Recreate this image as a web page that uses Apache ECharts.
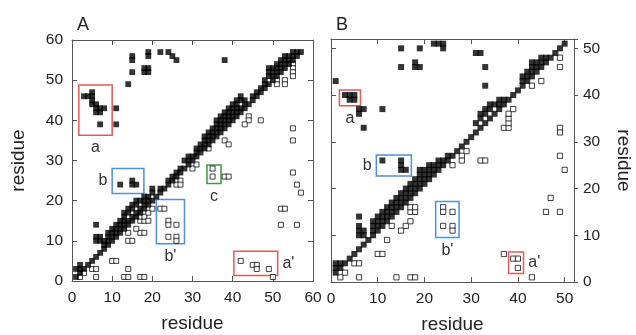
<!DOCTYPE html>
<html>
<head>
<meta charset="utf-8">
<script src="https://cdn.jsdelivr.net/npm/echarts@6/dist/echarts.min.js"></script>
<style>
  html, body { margin: 0; padding: 0; background: #fff; }
  #chart { width: 636px; height: 335px; }
</style>
</head>
<body>
<div id="chart"></div>
<script>
// panel A: contacts [residue i, residue j]
var aFilled = [
  [1,1],[2,2],[3,3],[4,4],[5,5],[6,6],[7,7],[8,8],[9,9],[10,10],
  [11,11],[12,12],[13,13],[14,14],[15,15],[16,16],[17,17],[18,18],[19,19],[20,20],
  [21,21],[22,22],[23,23],[24,24],[25,25],[26,26],[27,27],[28,28],[29,29],[30,30],
  [31,31],[32,32],[33,33],[34,34],[35,35],[36,36],[37,37],[38,38],[39,39],[40,40],
  [41,41],[42,42],[43,43],[44,44],[45,45],[46,46],[47,47],[48,48],[49,49],[50,50],
  [51,51],[52,52],[53,53],[54,54],[55,55],[56,56],[57,57],
  [1,3],[2,3],[2,4],
  [6,10],[7,10],[6,11],[7,11],[6,14],
  [8,9],[9,10],[10,11],[11,12],[12,13],[13,14],[14,15],[15,16],[16,17],[17,18],
  [18,19],[19,20],
  [8,10],[9,11],[9,12],[10,12],[10,13],[11,13],[11,14],[12,14],[12,15],[13,15],
  [13,16],[13,17],[14,17],[14,18],[15,18],[15,19],[16,19],[16,20],[17,20],[18,20],
  [18,21],[19,21],[20,22],[20,23],
  [22,23],[24,25],[25,26],[26,27],[27,28],[28,30],[29,30],[29,31],[30,31],[31,32],
  [32,33],[33,34],[34,35],[35,36],[36,37],[37,38],[38,39],[39,40],[40,41],[41,42],
  [42,43],[43,44],[34,36],[37,39],[38,40],[39,41],[40,42],[41,43],
  [31,33],[32,34],[33,35],[33,36],[34,37],[35,37],[35,38],[36,38],[36,39],[36,40],
  [37,40],[37,41],[38,41],[38,42],[39,42],[39,43],[40,43],[40,44],[41,44],[41,45],
  [42,45],[42,46],[43,45],
  [45,46],[46,47],[47,48],[48,49],[48,50],[49,51],[49,52],[49,53],[50,52],[50,53],
  [51,53],[51,54],[52,54],[52,55],[53,55],[53,56],[54,56],[55,56],[55,57],[56,57],
  [50,51],[51,52],[52,53],[53,54],[54,55],
  [14,49],[15,52],[15,55],[15,56],[18,52],[19,52],[18,53],[19,53],[19,56],[19,57],
  [22,57],[24,57],[25,56],[26,55],[38,55],
  [3,46],[4,46],[5,47],[5,46],[5,45],[5,44],[6,44],[6,43],[7,43],[8,43],[6,42],[7,42],
  [7,39],[11,43],[11,39],
  [12,24],[15,25],[15,24],[16,24]
];
var aOpen = [
  [2,1],[3,2],[5,3],[6,3],[6,1],[13,1],[14,1],[17,1],[18,1],[14,3],[10,5],[11,5],
  [14,10],[15,10],[14,12],[17,12],[18,12],[17,15],[18,15],[17,16],[18,16],[19,15],
  [19,17],[20,18],[16,13],
  [22,18],[23,18],[24,15],[24,14],[26,14],[24,11],[26,11],[26,10],
  [26,25],[27,25],[26,24],[27,24],[30,28],[31,29],
  [35,28],[35,26],[38,26],[39,26],
  [34,33],[38,35],[39,34],[44,41],[44,40],[43,39],[47,40],
  [51,50],[51,49],[53,50],[53,49],[55,54],[55,53],[55,52],[55,51],[55,38],[55,35],
  [55,27],[56,24],[57,22],[52,18],[53,18],[52,14],[56,14],
  [42,5],[45,4],[46,4],[46,3],[49,3],[50,1]
];
// panel B
var bFilled = [
  [1,2],[2,3],[3,4],[4,5],[5,6],[6,7],[7,8],[8,9],[9,10],[10,11],
  [11,12],[12,13],[13,14],[14,15],[15,16],[16,17],[17,18],[18,19],[19,20],[20,21],
  [21,22],[22,23],[23,24],[24,25],[25,26],[26,27],[27,28],[28,29],[29,30],[30,31],
  [31,32],[32,33],[33,34],[34,35],[35,36],[36,37],[37,38],[38,39],[39,40],[40,41],
  [41,42],[42,43],[43,44],[44,45],[45,46],[46,47],[47,48],[48,49],[49,50],[50,51],
  [1,3],[1,4],[2,4],
  [6,14],[6,10],[7,10],[6,11],[7,11],[6,12],
  [9,11],[9,12],[9,13],[10,12],[10,13],[10,14],[11,13],[11,14],[11,15],[12,14],
  [12,15],[12,16],[13,15],[13,16],[13,17],[14,16],[14,17],[14,18],[15,17],[15,18],
  [15,19],[16,18],[16,19],[16,20],[17,19],[17,20],[17,21],[18,20],[18,21],[18,22],
  [19,21],[19,22],[19,23],[20,22],[20,23],[20,24],[21,23],[21,24],[21,25],[22,24],
  [22,25],[23,25],[23,26],[24,26],[25,27],
  [31,34],[32,35],[32,36],[33,36],[33,37],[34,37],[34,38],[35,38],[36,38],[36,39],
  [37,39],
  [41,43],[41,44],[42,44],[42,45],[43,45],[43,46],[43,47],[44,46],[44,47],[45,47],
  [45,48],[46,48],
  [1,43],[3,40],[4,40],[5,40],[4,39],[5,39],[6,37],[7,37],[6,36],[11,37],[7,33],
  [15,50],[15,46],[18,47],[18,46],[19,46],[19,50],[22,51],[23,51],[24,51],[24,50],
  [31,49],[32,49],[33,46],[33,42],
  [11,26],[15,26],[15,25],[15,24],[16,24],[19,24]
];
var bOpen = [
  [3,2],[2,1],[6,1],[14,1],[17,1],[18,1],[5,4],[6,4],[10,6],[11,6],[12,9],
  [13,12],[15,11],[16,12],[17,13],[17,15],[18,15],[17,16],[18,16],
  [26,25],[28,27],[28,26],[29,28],[32,26],[33,26],
  [24,16],[24,15],[26,15],[24,12],[26,12],[26,11],
  [37,33],[38,33],[38,34],[38,35],[38,36],[39,37],
  [43,42],[45,43],[49,48],[49,46],[49,33],[49,32],[49,27],[50,24],
  [47,18],[46,15],[49,15],
  [37,6],[39,5],[40,5],[40,3],[43,1]
];
// highlighted regions: name, x1, y1, x2, y2
var aBoxes = [
  ['a', 1.7, 36.3, 10, 48.8],
  ['b', 10, 21.8, 17.9, 28],
  ["b'", 21, 9.3, 28, 20.3],
  ['c', 33.6, 24.3, 37.1, 28.9],
  ["a'", 40.3, 1.4, 51.2, 7.4]
];
var bBoxes = [
  ['a', 1.8, 37.7, 6.3, 41.1],
  ['b', 9.7, 22.7, 17.2, 27.2],
  ["b'", 22.4, 9.5, 27.4, 17.2],
  ["a'", 38, 1.8, 41.2, 6.4]
];
var axisTicks = [0, 10, 20, 30, 40, 50, 60];

var boxColor = { 'a': '#e05a5a', "a'": '#e05a5a', 'b': '#4f8fdc', "b'": '#4f8fdc', 'c': '#3a9a45' };
var labelPos = { 'a': 'bottom', "a'": 'right', 'b': 'left', "b'": 'bottom', 'c': 'bottom' };
var font = 'Liberation Sans, Arial, Helvetica, sans-serif';

function boxAreas(boxes) {
  return boxes.map(function (b) {
    return [{
      name: b[0],
      coord: [b[1], b[2]],
      itemStyle: { color: 'rgba(0,0,0,0)', borderColor: boxColor[b[0]], borderWidth: 1.5 },
      label: {
        show: true, position: labelPos[b[0]], distance: 4,
        formatter: b[0], color: '#333', fontSize: 16, fontFamily: font
      }
    }, { coord: [b[3], b[4]] }];
  });
}

function axisBase(max, pos, gridIndex, showLabel) {
  return {
    type: 'value', gridIndex: gridIndex, position: pos, min: 0, max: max, interval: 10,
    splitLine: { show: false },
    axisLine: { show: true, onZero: false, lineStyle: { color: '#555', width: 1 } },
    axisTick: { show: true, inside: true, length: 5, lineStyle: { color: '#555' } },
    axisLabel: {
      show: showLabel, color: '#222', fontSize: 15.5, fontFamily: font, margin: 9,
      formatter: function (v) { return axisTicks.indexOf(v) >= 0 ? v : ''; }
    }
  };
}

var nameStyle = { fontSize: 19, color: '#222', fontFamily: font };

var xA = axisBase(60, 'bottom', 0, true);
xA.name = 'residue'; xA.nameLocation = 'middle'; xA.nameGap = 33;
xA.nameTextStyle = nameStyle;
var xATop = axisBase(60, 'top', 0, false);
var yA = axisBase(60, 'left', 0, true);
yA.name = 'residue'; yA.nameLocation = 'middle'; yA.nameGap = 44;
yA.nameTextStyle = nameStyle;
var yARight = axisBase(60, 'right', 0, false);

var xB = axisBase(52, 'bottom', 1, true);
xB.name = 'residue'; xB.nameLocation = 'middle'; xB.nameGap = 33;
xB.nameTextStyle = nameStyle;
var xBTop = axisBase(52, 'top', 1, false);
var yB = axisBase(52, 'right', 1, true);
yB.axisTick.inside = false; yB.axisTick.length = 4;
yB.axisLabel.margin = 9;
yB.name = 'residue'; yB.nameLocation = 'middle'; yB.nameGap = 40; yB.nameRotate = -90;
yB.nameTextStyle = nameStyle;
var yBLeft = axisBase(52, 'left', 1, false);

var chart = echarts.init(document.getElementById('chart'), null, { renderer: 'canvas' });
chart.setOption({
  animation: false,
  backgroundColor: '#fff',
  title: [
    { text: 'A', left: 72, top: 11, textStyle: { fontSize: 18, fontWeight: 'normal', color: '#222', fontFamily: font } },
    { text: 'B', left: 331, top: 11, textStyle: { fontSize: 18, fontWeight: 'normal', color: '#222', fontFamily: font } }
  ],
  grid: [
    { left: 72, top: 40, width: 241, height: 241, containLabel: false, outerBoundsMode: 'none' },
    { left: 331, top: 39, width: 243, height: 243, containLabel: false, outerBoundsMode: 'none' }
  ],
  xAxis: [xA, xATop, xB, xBTop],
  yAxis: [yA, yARight, yB, yBLeft],
  series: [
    {
      type: 'scatter', xAxisIndex: 0, yAxisIndex: 0, data: aOpen,
      symbol: 'rect', symbolSize: 5,
      itemStyle: { color: '#fff', borderColor: '#111', borderWidth: 1 },
      markArea: { silent: true, data: boxAreas(aBoxes) }
    },
    {
      type: 'scatter', xAxisIndex: 0, yAxisIndex: 0, data: aFilled,
      symbol: 'rect', symbolSize: 5.8, itemStyle: { color: '#000' }
    },
    {
      type: 'scatter', xAxisIndex: 2, yAxisIndex: 2, data: bOpen,
      symbol: 'rect', symbolSize: 5.2,
      itemStyle: { color: '#fff', borderColor: '#111', borderWidth: 1 },
      markArea: { silent: true, data: boxAreas(bBoxes) }
    },
    {
      type: 'scatter', xAxisIndex: 2, yAxisIndex: 2, data: bFilled,
      symbol: 'rect', symbolSize: 6, itemStyle: { color: '#000' }
    }
  ]
});
</script>
</body>
</html>
